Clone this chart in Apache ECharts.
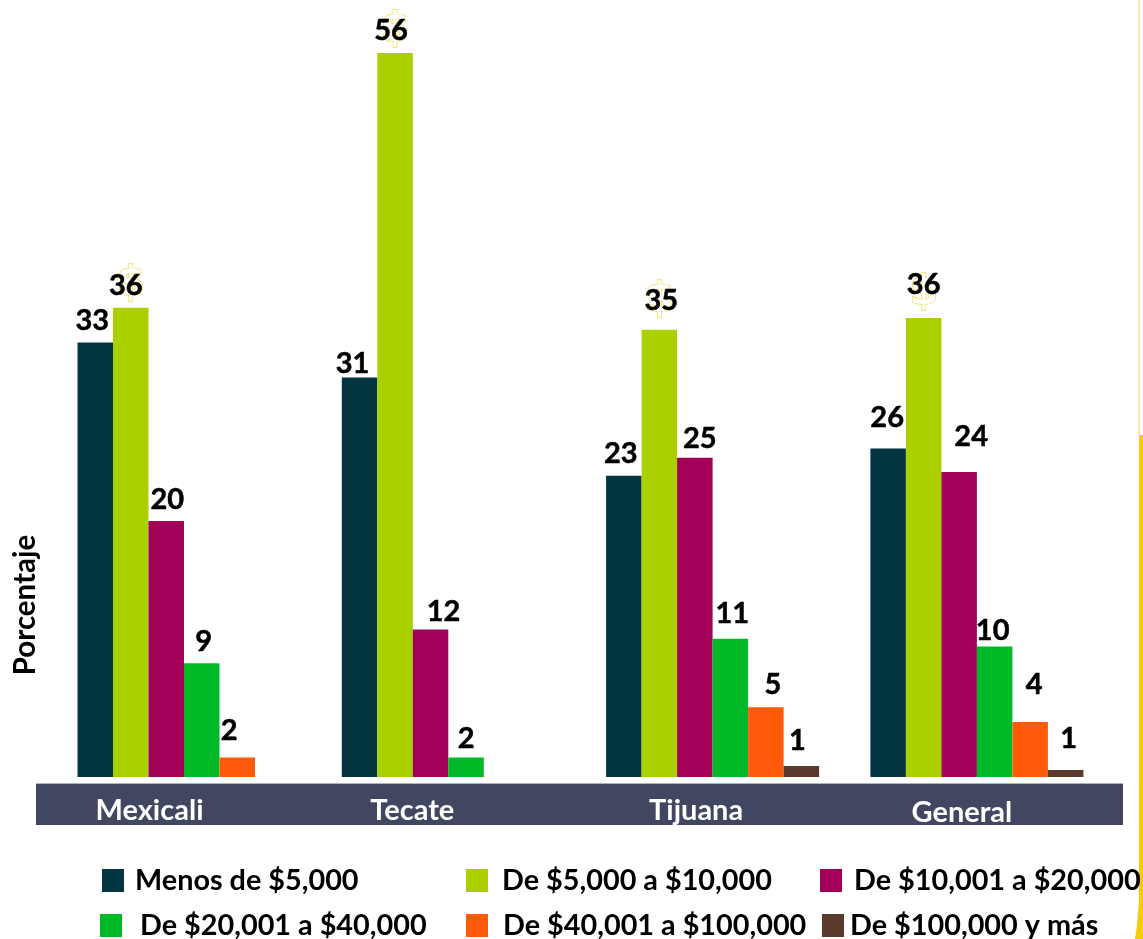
<!DOCTYPE html>
<html>
<head>
<meta charset="utf-8">
<style>html,body{margin:0;padding:0;background:#fff}#c{width:1143px;height:939px}</style>
<script src="https://cdn.jsdelivr.net/npm/echarts@6/dist/echarts.min.js"></script>
</head>
<body>
<div id="c"></div>
<script>
const categories = ['Mexicali', 'Tecate', 'Tijuana', 'General'];
const seriesNames = ['Menos de $5,000', 'De $5,000 a $10,000', 'De $10,001 a $20,000', 'De $20,001 a $40,000', 'De $40,001 a $100,000', 'De $100,000 y más'];
const colors = ['#023540', '#AAD000', '#A3005A', '#00B926', '#FF5A0A', '#5A3A2C'];

const menos5 = [33.6, 30.9, 23.3, 25.4];
const de5a10 = [36.3, 56, 34.6, 35.5];
const de10a20 = [19.8, 11.4, 24.7, 23.6];
const de20a40 = [8.8, 1.5, 10.7, 10.1];
const de40a100 = [1.5, null, 5.4, 4.25];
const de100mas = [null, null, 0.85, 0.55];
const seriesValues = [menos5, de5a10, de10a20, de20a40, de40a100, de100mas];

const labelsMenos5 = [33, 31, 23, 26];
const labelsDe5a10 = [36, 56, 35, 36];
const labelsDe10a20 = [20, 12, 25, 24];
const labelsDe20a40 = [9, 2, 11, 10];
const labelsDe40a100 = [2, null, 5, 4];
const labelsDe100mas = [null, null, 1, 1];
const seriesLabels = [labelsMenos5, labelsDe5a10, labelsDe10a20, labelsDe20a40, labelsDe40a100, labelsDe100mas];

/* hand placement of the value labels, [dx, dy] per series and category */
const labelNudges = [
  [[-3, -4], [-7, 4], [-3, -5], [-1, -13]],
  [[-5, -5], [-4, -5], [2, -12], [0, -16]],
  [[1, -4], [13, 0], [5, -2], [12, -18]],
  [[2, -4], [0, -1], [2, -8], [-2, 2]],
  [[-8, -9], [0, 0], [7, -5], [4, -20]],
  [[0, 0], [0, 0], [-4, -8], [3, -14]]
];
const labelShiftRight = [69, 72, 33, 30];
const labelDrop = [0, 0, 0, 2];
const dollarRise = [-23, -23, -29, -25];

const FONT = 'Lato';
const legendSlots = [
  {left: 102, top: 866, gap: 6},
  {left: 466, top: 866, gap: 9},
  {left: 820, top: 866, gap: 7},
  {left: 100, top: 911, gap: 13},
  {left: 466, top: 911, gap: 10},
  {left: 822, top: 911, gap: 1}
];

const series = seriesNames.map((name, s) => ({
  name,
  type: 'bar',
  barWidth: 35.5,
  barGap: '0%',
  z: 3,
  itemStyle: {color: colors[s]},
  label: {
    show: true,
    position: 'top',
    distance: 3,
    fontFamily: FONT,
    fontWeight: 'bold',
    fontSize: 29,
    color: '#000',
    textBorderColor: '#000',
    textBorderWidth: 0.5,
    formatter: p => seriesLabels[s][p.dataIndex]
  },
  data: seriesValues[s].map((v, c) => ({value: v, label: {offset: labelNudges[s][c]}}))
}));

series[1].markPoint = {
  symbol: 'circle',
  symbolSize: 1,
  silent: true,
  z: 1,
  itemStyle: {color: 'rgba(0,0,0,0)'},
  label: {
    show: true,
    position: 'inside',
    formatter: '$',
    fontFamily: 'DejaVu Sans',
    fontWeight: 'bold',
    fontSize: 41,
    color: '#fff',
    textBorderColor: '#F6D84E',
    textBorderWidth: 1.4
  },
  data: categories.map((cat, c) => ({
    coord: [cat, de5a10[c]],
    label: {offset: [0, dollarRise[c]]}
  }))
};

const chart = echarts.init(document.getElementById('c'), null, {renderer: 'canvas'});
chart.setOption({
  backgroundColor: '#fff',
  animation: false,
  grid: {left: 51.85, width: 1057.2, top: 53, height: 724},
  legend: seriesNames.map((name, i) => ({
    show: true,
    data: [name],
    left: legendSlots[i].left,
    top: legendSlots[i].top,
    padding: 0,
    itemWidth: 22,
    itemHeight: 23,
    icon: 'rect',
    selectedMode: false,
    textStyle: {
      fontFamily: FONT,
      fontWeight: 'bold',
      fontSize: 28.8,
      color: '#000',
      padding: [0, 0, 0, legendSlots[i].gap]
    }
  })),
  xAxis: {
    type: 'category',
    data: categories.map((c, i) => ({
      value: c,
      textStyle: {padding: [labelDrop[i], labelShiftRight[i], 0, 0]}
    })),
    axisLine: {show: false},
    axisTick: {show: false},
    axisLabel: {
      margin: 19,
      interval: 0,
      fontFamily: FONT,
      fontWeight: 'bold',
      fontSize: 29,
      color: '#fff'
    }
  },
  yAxis: {
    type: 'value',
    min: 0,
    max: 56,
    name: 'Porcentaje',
    nameLocation: 'middle',
    nameGap: 11,
    nameRotate: 90,
    nameTextStyle: {
      fontFamily: FONT,
      fontWeight: 'bold',
      fontSize: 29.5,
      color: '#000',
      padding: [0, 380, 0, 0]
    },
    axisLine: {show: false},
    axisTick: {show: false},
    axisLabel: {show: false},
    splitLine: {show: false}
  },
  graphic: [
    {type: 'rect', z: -1, silent: true, shape: {x: 36, y: 784, width: 1087, height: 41}, style: {fill: '#414760'}},
    {type: 'rect', z: -1, silent: true, shape: {x: 36, y: 783, width: 1087, height: 1}, style: {fill: '#A9B2C6'}},
    {type: 'rect', z: -1, silent: true, shape: {x: 1138, y: 0, width: 2, height: 435}, style: {fill: '#FBEBA6'}},
    {type: 'polygon', z: -1, silent: true, shape: {points: [[1139, 435], [1143, 435], [1143, 939], [1135, 939], [1137, 925], [1139, 900]]}, style: {fill: '#F4CC0A'}}
  ],
  series
});
</script>
</body>
</html>
